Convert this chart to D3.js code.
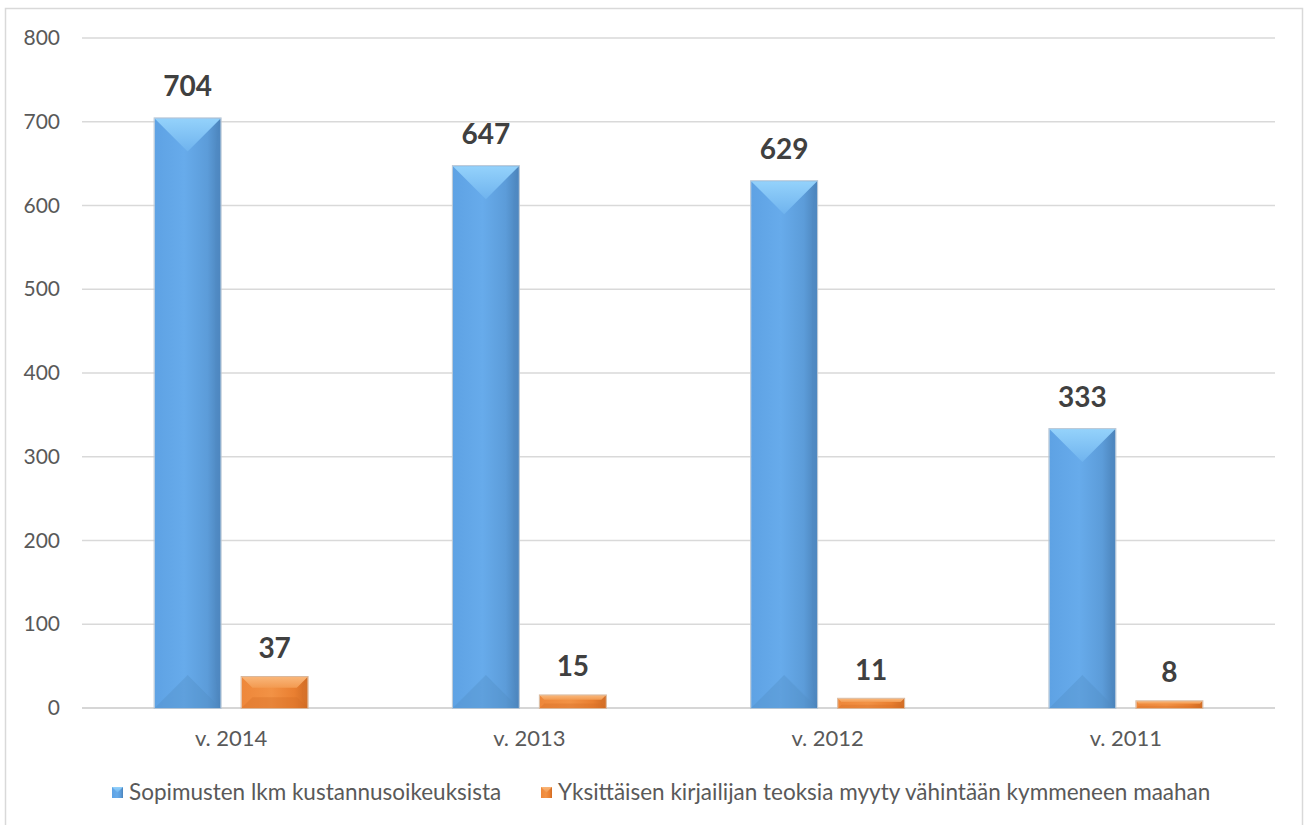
<!DOCTYPE html>
<html>
<head>
<meta charset="utf-8">
<script src="https://cdn.jsdelivr.net/npm/d3@7"></script>
<style>
  html, body { margin: 0; padding: 0; background: #fff; }
  svg { display: block; }
  text { font-family: Lato, "Open Sans", sans-serif; }
</style>
</head>
<body>
<svg id="chart" width="1305" height="825"></svg>
<script>
// Chart data
const categories = ["v. 2014", "v. 2013", "v. 2012", "v. 2011"];
const seriesNames = [
  "Sopimusten lkm kustannusoikeuksista",
  "Yksittäisen kirjailijan teoksia myyty vähintään kymmeneen maahan"
];
const contracts = [704, 647, 629, 333];
const authors = [37, 15, 11, 8];
const yTicks = [0, 100, 200, 300, 400, 500, 600, 700, 800];

const svg = d3.select("#chart");
const plot = { left: 82, right: 1275, top: 38, bottom: 708 };

// Outer frame
svg.append("rect")
  .attr("x", 5.5).attr("y", 8.5)
  .attr("width", 1297).attr("height", 830)
  .attr("fill", "#fff").attr("stroke", "#d9d9d9").attr("stroke-width", 1.5);

const x = d3.scaleBand().domain(categories).range([plot.left, plot.right]);
const y = d3.scaleLinear().domain([0, 800]).range([plot.bottom, plot.top]);

// Gridlines
svg.append("g").selectAll("line").data(yTicks).join("line")
  .attr("x1", plot.left).attr("x2", plot.right)
  .attr("y1", d => y(d)).attr("y2", d => y(d))
  .attr("stroke", d => d === 0 ? "#c8c8c8" : "#d9d9d9")
  .attr("stroke-width", 1.5);

// Y axis labels
const yAxis = d3.axisLeft(y).tickValues(yTicks).tickSize(0).tickPadding(0);
const yg = svg.append("g").attr("transform", `translate(60,0)`).call(yAxis);
yg.select(".domain").remove();
yg.selectAll("text").attr("font-size", 21).attr("fill", "#595959")
  .attr("font-family", "Lato, sans-serif");

// X axis labels
const xAxis = d3.axisBottom(x).tickSize(0).tickPadding(0);
const xg = svg.append("g").attr("transform", `translate(0,${plot.bottom + 22})`).call(xAxis);
xg.select(".domain").remove();
xg.selectAll("text").attr("font-size", 22).attr("fill", "#595959")
  .attr("font-family", "Lato, sans-serif");

// Gradients for bevelled bars
const defs = svg.append("defs");
function hgrad(id, stops) {
  const g = defs.append("linearGradient").attr("id", id)
    .attr("x1", "0").attr("x2", "1").attr("y1", "0").attr("y2", "0");
  stops.forEach(([o, c, a]) => g.append("stop").attr("offset", o).attr("stop-color", c).attr("stop-opacity", a == null ? 1 : a));
}
function vgrad(id, stops) {
  const g = defs.append("linearGradient").attr("id", id)
    .attr("x1", "0").attr("x2", "0").attr("y1", "0").attr("y2", "1");
  stops.forEach(([o, c, a]) => g.append("stop").attr("offset", o).attr("stop-color", c).attr("stop-opacity", a == null ? 1 : a));
}
hgrad("blueBody", [[0, "#5ea2e4"], [0.45, "#67abeb"], [0.8, "#5c9cd9"], [1, "#4b83ba"]]);
hgrad("orangeBody", [[0, "#ee873a"], [0.45, "#f29245"], [0.8, "#e97f31"], [1, "#d06b23"]]);
vgrad("blueTop", [[0, "#94d2fb"], [1, "#6fb3ee"]]);
vgrad("orangeTop", [[0, "#f9b679"], [1, "#f39a50"]]);

const palettes = [
  { body: "url(#blueBody)", top: "url(#blueTop)", bottom: "#4f8bc4", right: "#4f8ac3", edge: "#b4c4d4" },
  { body: "url(#orangeBody)", top: "url(#orangeTop)", bottom: "#d46d25", right: "#d8732b", edge: "#d9b89c" }
];

const barW = 66, gap = 21;
const offsets = [-(gap / 2 + barW), gap / 2];
const series = [contracts, authors];

series.forEach((vals, si) => {
  const pal = palettes[si];
  const g = svg.append("g");
  vals.forEach((v, i) => {
    const cx = x(categories[i]) + x.bandwidth() / 2;
    const x0 = cx + offsets[si], x1 = x0 + barW;
    const y0 = y(v), y1 = y(0);
    const h = y1 - y0;
    const d = Math.min(barW / 2, h * 0.35);
    const bar = g.append("g");
    bar.append("rect").attr("x", x0).attr("y", y0).attr("width", barW).attr("height", h)
      .attr("fill", pal.body);
    // top face
    bar.append("path").attr("d", `M${x0},${y0} L${x1},${y0} L${x1 - d},${y0 + d} L${x0 + d},${y0 + d} Z`)
      .attr("fill", pal.top);
    // bottom face
    bar.append("path").attr("d", `M${x0},${y1} L${x1},${y1} L${x1 - d},${y1 - d} L${x0 + d},${y1 - d} Z`)
      .attr("fill", pal.bottom).attr("opacity", 0.35);
    // right face
    bar.append("path").attr("d", `M${x1},${y0} L${x1},${y1} L${x1 - Math.min(d, 5)},${y1 - d} L${x1 - Math.min(d, 5)},${y0 + d} Z`)
      .attr("fill", pal.right).attr("opacity", 0.5);
    bar.append("rect").attr("x", x0 - 0.5).attr("y", y0 - 0.5).attr("width", barW + 1).attr("height", h + 1)
      .attr("fill", "none").attr("stroke", pal.edge).attr("stroke-width", 1);
    // value label
    g.append("text").attr("x", (x0 + x1) / 2).attr("y", y0 - (si === 0 ? 22 : 19))
      .attr("text-anchor", "middle").attr("font-size", 28).attr("font-weight", "bold")
      .attr("fill", "#404040").text(v);
  });
});

// Legend
const legend = svg.append("g").attr("transform", "translate(0,792)");
const legendX = [112, 541];
seriesNames.forEach((name, i) => {
  const pal = palettes[i];
  const lx = legendX[i];
  legend.append("rect").attr("x", lx).attr("y", -5).attr("width", 11).attr("height", 11).attr("fill", pal.body);
  legend.append("path").attr("d", `M${lx},-5 L${lx + 11},-5 L${lx + 5.5},0.5 Z`).attr("fill", pal.top);
  legend.append("text").attr("x", lx + 17).attr("y", 8).attr("font-size", 22.5).attr("fill", "#595959").text(name);
});
</script>
</body>
</html>
